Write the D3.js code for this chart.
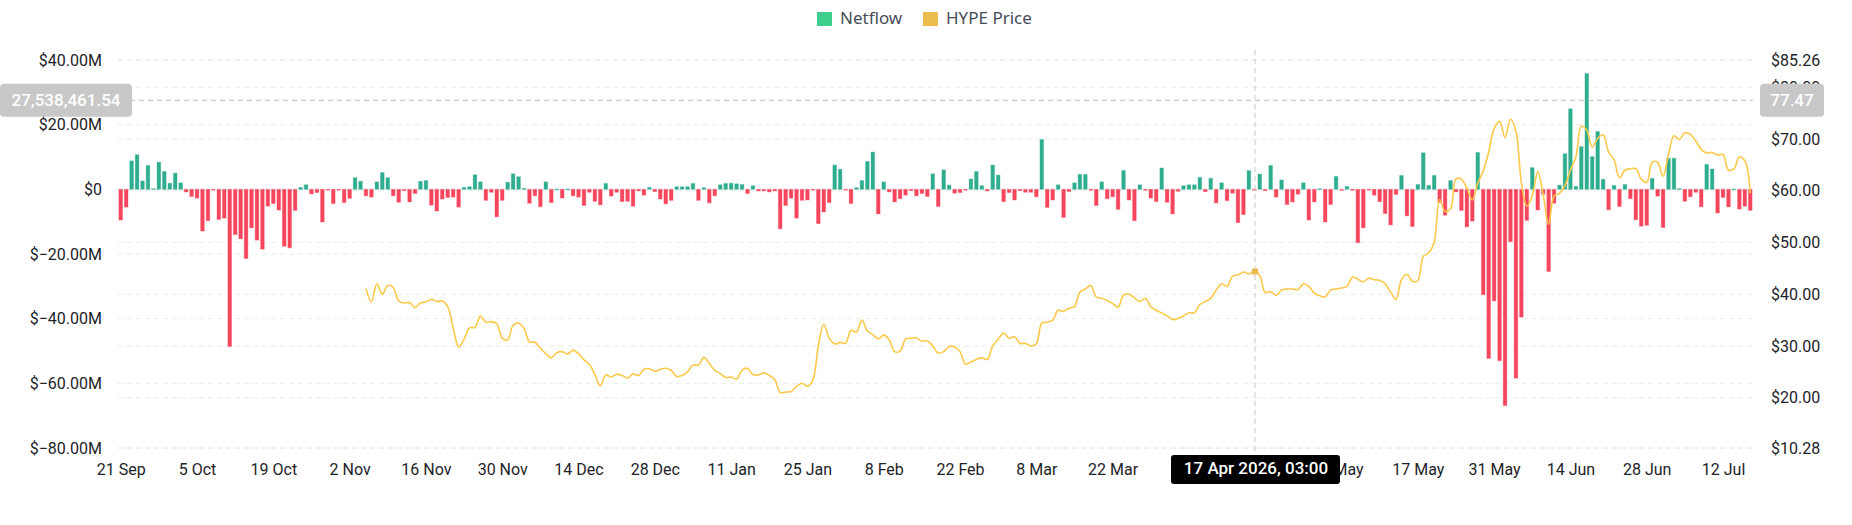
<!DOCTYPE html>
<html lang="en">
<head>
<meta charset="UTF-8">
<title>HYPE Netflow</title>
<script src="https://d3js.org/d3.v7.min.js"></script>
<style>
    * { margin: 0; padding: 0; }
    body { background: #fff; }
    svg { display: block; font-family: Roboto, "Noto Sans", sans-serif; }
</style>
</head>
<body>
<svg id="chart" width="1852" height="525"></svg>
<script>
// daily netflow, millions USD, starting 21 Sep 2025
const netflowStart = '2025-09-21';
const netflow = [
    -9.5, -5.5, 8.8, 10.7, 2.6, 7.4, 0.2, 8.4, 5.5, 1.9,
    5.0, 2.0, -0.8, -2.2, -2.7, -12.9, -9.7, -0.2, -9.3, -8.9,
    -48.6, -14.0, -15.3, -21.4, -11.9, -15.7, -18.5, -5.2, -4.4, -6.4,
    -17.6, -18.1, -6.5, 0.6, 1.4, -1.4, -1.0, -10.1, -0.2, -4.4,
    -0.2, -4.1, -2.8, 3.6, 2.5, -2.0, -2.4, 2.3, 5.2, 3.6,
    -2.0, -4.0, -0.4, -3.9, -1.3, 2.5, 2.7, -4.9, -6.7, -3.0,
    -2.5, -2.4, -5.5, 0.6, 0.8, 4.5, 2.3, -3.4, -0.9, -8.5,
    -3.4, 2.2, 4.8, 3.9, 0.3, -4.3, -2.0, -5.4, 2.3, -4.1,
    0.1, -2.7, 0.1, -2.0, -2.4, -5.0, -0.9, -3.7, -4.8, 1.8,
    -2.1, -0.9, -3.8, -3.7, -5.2, -0.5, -1.8, 0.6, -0.7, -3.0,
    -4.5, -3.4, 0.8, 0.8, 0.8, 1.8, -3.4, 0.5, -4.2, -2.0,
    1.4, 1.8, 1.9, 1.7, 1.5, -1.3, 1.1, -0.5, -0.5, -0.8,
    -0.5, -12.2, -5.0, -2.7, -8.9, -3.4, -3.3, -0.2, -10.6, -7.0,
    -4.1, 7.5, 6.2, -0.2, -4.4, 0.5, 2.7, 8.6, 11.5, -7.6,
    2.3, -0.8, -3.9, -2.9, -1.8, -0.4, -2.0, -1.3, -2.2, 4.8,
    -5.3, 6.0, 1.3, -1.2, -1.0, -0.2, 3.2, 5.5, 1.1, -0.5,
    7.5, 4.4, -3.8, -1.0, -3.3, -0.4, -0.9, -0.9, -2.3, 15.4,
    -5.6, -3.3, 1.4, -8.7, -0.7, 2.0, 4.6, 4.6, -0.3, -5.0,
    2.3, -2.9, -2.3, -6.2, 5.8, -3.3, -9.7, 1.4, -0.3, -2.7,
    -3.8, 6.6, -4.0, -7.6, -0.6, 1.1, 1.4, 1.4, 3.7, -0.7,
    3.4, -4.2, 2.0, -3.5, -1.2, -10.3, -7.8, 5.8, -0.2, 4.7,
    -0.4, 7.4, -2.4, 2.9, -4.7, -3.9, -1.5, 2.0, -9.5, -3.9,
    0.2, -10.1, -4.7, 4.0, -0.3, 0.9, -0.3, -16.5, -11.9, -0.2,
    -1.8, -3.8, -7.5, -11.0, -1.6, 4.3, -8.2, -11.5, 1.5, 11.3,
    1.2, 4.3, -4.1, -8.0, 2.7, -0.8, -6.5, -11.6, -9.8, 11.4,
    -32.6, -52.3, -34.5, -53.0, -66.9, -16.2, -58.4, -39.5, -9.6, 6.7,
    -6.4, -1.5, -25.4, -4.3, 1.3, 11.0, 24.9, 0.9, 13.2, 35.8,
    10.1, 17.9, 3.1, -6.3, 1.2, -5.3, 1.5, -2.9, -9.4, -11.4,
    -11.1, 3.4, -2.1, -11.8, 9.6, 9.6, 0.2, -3.7, -2.3, -0.9,
    -5.4, 7.7, 6.3, -7.3, -2.5, -5.4, 0.1, -6.1, -5.2, -6.5
];

// daily HYPE price, USD, starting 5 Nov 2025
const priceStart = '2025-11-05';
const price = [
    41.1, 38.5, 42.0, 40.0, 41.7, 41.3, 38.7, 38.3, 38.4, 37.4,
    38.3, 38.5, 39.0, 38.6, 38.7, 37.6, 33.5, 29.8, 31.3, 33.5,
    33.6, 35.8, 34.6, 34.7, 34.3, 31.5, 31.2, 34.0, 34.4, 33.4,
    30.8, 30.7, 29.6, 28.5, 27.7, 28.7, 28.9, 28.4, 29.2, 28.5,
    27.3, 26.4, 24.5, 22.3, 24.4, 24.0, 24.5, 24.3, 23.8, 24.6,
    24.3, 25.5, 25.6, 25.1, 25.5, 25.7, 25.3, 24.1, 24.3, 25.0,
    26.3, 26.3, 27.8, 26.6, 25.3, 24.7, 23.9, 24.0, 23.6, 25.3,
    25.7, 24.5, 24.4, 24.8, 24.3, 23.5, 21.0, 21.1, 21.2, 22.2,
    22.8, 22.2, 23.4, 30.0, 34.2, 31.5, 30.4, 30.7, 30.5, 33.0,
    32.7, 35.0, 32.9, 32.2, 31.4, 32.1, 31.2, 28.9, 29.0, 31.3,
    31.5, 31.6, 30.9, 31.0, 30.0, 28.6, 28.9, 29.9, 29.8, 28.9,
    26.5, 26.9, 27.4, 27.7, 27.4, 30.0, 31.3, 32.5, 31.5, 31.8,
    30.5, 30.5, 30.0, 30.4, 34.4, 34.6, 35.0, 36.9, 36.7, 37.3,
    37.6, 40.4, 41.0, 41.7, 39.5, 39.2, 38.8, 38.2, 37.5, 39.8,
    40.0, 39.3, 38.6, 39.2, 37.6, 36.9, 36.4, 35.8, 35.1, 35.3,
    35.8, 36.4, 36.4, 38.0, 38.6, 39.2, 40.8, 42.0, 41.5, 43.5,
    43.7, 44.3, 43.9, 44.5, 43.6, 40.3, 40.5, 39.8, 40.8, 41.0,
    41.0, 40.9, 42.0, 41.5, 40.2, 39.7, 39.5, 40.8, 41.0, 41.2,
    41.5, 43.3, 42.9, 42.4, 43.1, 42.8, 42.7, 42.0, 40.4, 39.0,
    42.8, 43.8, 42.5, 42.6, 47.3, 48.0, 50.0, 58.3, 56.0, 56.5,
    62.3, 62.2, 60.5, 58.2, 61.5, 63.8, 67.5, 72.0, 73.4, 70.3,
    73.8, 71.5, 61.5, 57.0, 59.0, 63.7, 59.3, 53.5, 59.0, 59.5,
    61.0, 64.0, 66.5, 72.5, 71.7, 68.4, 70.1, 70.8, 67.5, 66.0,
    62.5, 64.0, 64.2, 64.3, 62.2, 61.6, 65.5, 65.5, 62.8, 67.0,
    70.6, 69.9, 71.2, 70.9, 69.6, 68.0, 67.3, 67.4, 66.9, 67.0,
    64.0, 64.2, 66.5, 65.8, 59.5
];

const leftTicks = [40, 20, 0, -20, -40, -60, -80];
const rightTicks = [85.26, 80, 70, 60, 50, 40, 30, 20, 10.28];
const seriesNames = ['Netflow', 'HYPE Price'];

// hover state shown in the picture
const hoverTime = '2026-04-17T03:00:00Z';
const hoverNetflow = 27.53846154;   // millions

const W = 1852, H = 525;
const plotL = 118, plotR = 1753, plotT = 60, plotB = 448;

const parse = d3.utcParse('%Y-%m-%d');
const day0 = parse(netflowStart);
const flowData = netflow.map((v, i) => ({ date: d3.utcDay.offset(day0, i), v }));
const p0 = parse(priceStart);
const priceData = price.map((v, i) => ({ date: d3.utcDay.offset(p0, i), v }));
const lastDay = flowData[flowData.length - 1].date;

const x = d3.scaleUtc()
    .domain([d3.utcHour.offset(day0, -12), d3.utcHour.offset(lastDay, 12)])
    .range([plotL, plotR]);
const yL = d3.scaleLinear().domain([-80, 40]).range([plotB, plotT]);
const yR = d3.scaleLinear().domain([10.28, 85.26]).range([plotB, plotT]);

const svg = d3.select('#chart');

// grid
const grid = svg.append('g');
const gridY = leftTicks.map(yL).concat(rightTicks.map(yR));
grid.selectAll('line').data(gridY).enter().append('line')
    .attr('x1', plotL).attr('x2', plotR)
    .attr('y1', d => d).attr('y2', d => d)
    .attr('stroke', '#eaecef')
    .attr('stroke-width', 1)
    .attr('stroke-dasharray', '5,4');

// axes
const fmtL = d => d === 0 ? '$0' : '$' + d3.format('.2f')(d) + 'M';
const axL = svg.append('g')
    .attr('transform', 'translate(' + (plotL - 13) + ',0)')
    .call(d3.axisLeft(yL).tickValues(leftTicks).tickFormat(fmtL).tickSize(0));
const axR = svg.append('g')
    .attr('transform', 'translate(' + (plotR + 15) + ',0)')
    .call(d3.axisRight(yR).tickValues(rightTicks).tickFormat(d => '$' + d.toFixed(2)).tickSize(0));
const tickDates = d3.utcDay.range(day0, lastDay, 14);
const axX = svg.append('g')
    .attr('transform', 'translate(0,' + (plotB + 13) + ')')
    .call(d3.axisBottom(x).tickValues(tickDates).tickFormat(d3.utcFormat('%-d %b')).tickSize(0));
[axL, axR, axX].forEach(a => {
    a.select('.domain').remove();
    a.selectAll('text')
        .attr('fill', '#1e2329')
        .style('font-size', '16px')
        .style('font-family', 'Roboto, sans-serif');
});
axL.selectAll('text').attr('dx', 0);
axR.selectAll('text').attr('dx', 0);

// bars
const barW = 3.6;
svg.append('g').selectAll('rect').data(flowData).enter().append('rect')
    .attr('x', d => x(d.date) - barW / 2)
    .attr('width', barW)
    .attr('y', d => yL(Math.max(0, d.v)))
    .attr('height', d => Math.max(0.8, Math.abs(yL(d.v) - yL(0))))
    .attr('fill', d => d.v >= 0 ? '#2ead8f' : '#f6465d')
    .attr('stroke', d => d.v >= 0 ? 'rgba(46,173,143,0.35)' : 'rgba(246,70,93,0.35)')
    .attr('stroke-width', 1);

// price line
const line = d3.line()
    .x(d => x(d.date))
    .y(d => yR(d.v))
    .curve(d3.curveCatmullRom.alpha(0.5));
svg.append('path')
    .datum(priceData)
    .attr('d', line)
    .attr('fill', 'none')
    .attr('stroke', '#fcc94a')
    .attr('stroke-width', 1.6);

// crosshair
const ht = new Date(hoverTime);
const hx = x(ht);
const hy = yL(hoverNetflow);
svg.append('line')
    .attr('x1', hx).attr('x2', hx).attr('y1', 50).attr('y2', plotB + 8)
    .attr('stroke', '#c9c9c9').attr('stroke-dasharray', '5,4');
svg.append('line')
    .attr('x1', 130).attr('x2', plotR).attr('y1', hy).attr('y2', hy)
    .attr('stroke', '#c9c9c9').attr('stroke-dasharray', '5,4').attr('stroke-width', 1.2);

// marker on price line
const bis = d3.bisector(d => d.date).left;
const k = bis(priceData, ht);
const pa = priceData[k - 1], pb = priceData[k];
const hp = pa.v + (pb.v - pa.v) * (ht - pa.date) / (pb.date - pa.date);
svg.append('rect')
    .attr('x', hx - 3).attr('y', yR(hp) - 3).attr('width', 6).attr('height', 6)
    .attr('fill', '#e9b949');

// value badges
function badge(x0, w, txt) {
    svg.append('rect')
        .attr('x', x0).attr('y', hy - 16.5).attr('width', w).attr('height', 33)
        .attr('rx', 4).attr('fill', '#c8c8c8');
    svg.append('text')
        .attr('x', x0 + w / 2).attr('y', hy + 1)
        .attr('text-anchor', 'middle').attr('dominant-baseline', 'middle')
        .attr('fill', '#fff').style('font-size', '17px').style('font-weight', 500)
        .text(txt);
}
badge(0, 132, d3.format(',.2f')(hoverNetflow * 1e6));
badge(plotR + 7, 64, d3.format('.2f')(yR.invert(hy)));

// time badge
svg.append('rect')
    .attr('x', hx - 84).attr('y', plotB + 7).attr('width', 169).attr('height', 29)
    .attr('rx', 3).attr('fill', '#000');
svg.append('text')
    .attr('x', hx + 1).attr('y', plotB + 22)
    .attr('text-anchor', 'middle').attr('dominant-baseline', 'middle')
    .attr('fill', '#fff').style('font-size', '17px').style('font-weight', 500)
    .text(d3.utcFormat('%-d %b %Y, %H:%M')(ht));

// legend
const legColors = ['#3ecf8e', '#ebbd4e'];
const legX = [817, 923];
seriesNames.forEach((n, i) => {
    svg.append('rect')
        .attr('x', legX[i]).attr('y', 12).attr('width', 15).attr('height', 14)
        .attr('fill', legColors[i]);
    svg.append('text')
        .attr('x', legX[i] + 23).attr('y', 19.5)
        .attr('dominant-baseline', 'middle')
        .attr('fill', '#474d57')
        .style('font-family', '"Noto Sans", sans-serif')
        .style('font-size', '17px')
        .text(n);
});
</script>
</body>
</html>
